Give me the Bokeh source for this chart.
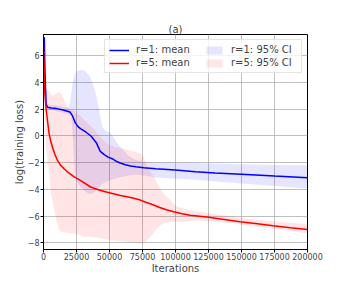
from bokeh.plotting import figure
from bokeh.models import FixedTicker, CustomJSTickFormatter, Legend, LegendItem, Title
from bokeh.embed import file_html
from bokeh.resources import INLINE

# ---- data ----
blue_mean_x = [0, 600, 1200, 2000, 3000, 6000, 10000, 15000, 20000, 22000, 24000, 26000, 28000,
               32000, 36000, 40000, 43000, 46000, 49000, 52000, 55000, 58000, 62000, 66000, 70000,
               76000, 85000, 100000, 115000, 130000, 150000, 175000, 200000]
blue_mean_y = [7.0, 7.4, 4.5, 2.4, 2.15, 2.1, 2.05, 1.95, 1.8, 1.5, 1.0, 0.72, 0.55,
               0.3, 0.0, -0.5, -1.15, -1.4, -1.58, -1.7, -1.88, -2.02, -2.15, -2.25, -2.3,
               -2.37, -2.45, -2.55, -2.68, -2.77, -2.87, -3.0, -3.12]

red_mean_x = [0, 500, 1000, 2000, 3000, 4200, 5500, 7000, 8500, 10600, 13000, 15600, 18300,
              23000, 28200, 35700, 42000, 48300, 58300, 66000, 73400, 78000, 83000, 88000, 93000,
              98600, 105000, 111000, 123800, 137000, 148900, 162000, 174000, 187000, 200000]
red_mean_y = [6.8, 5.0, 3.2, 2.0, 1.16, 0.2, -0.4, -0.9, -1.35, -1.83, -2.2, -2.45, -2.7,
              -3.05, -3.35, -3.82, -4.05, -4.22, -4.45, -4.6, -4.8, -4.98, -5.15, -5.35, -5.52,
              -5.68, -5.82, -5.93, -6.06, -6.25, -6.43, -6.58, -6.73, -6.87, -7.0]

blue_ci_x = [0, 500, 1000, 1500, 2500, 4000, 8000, 12000, 16000, 19300, 20500, 21500, 22500,
             23500, 25000, 28000, 31000, 34000, 36000, 38000, 40000, 41500, 43000, 44500, 47000,
             50800, 55800, 60000, 64000, 70000, 76000, 85000, 100000, 115000, 130000, 150000,
             175000, 200000]
blue_ci_upper = [7.3, 7.5, 6.0, 3.5, 2.5, 2.35, 2.3, 2.25, 2.15, 2.2, 2.8, 3.6, 4.2,
                 4.6, 4.85, 4.95, 4.9, 4.6, 4.3, 3.7, 3.0, 2.3, 1.5, 0.7, 0.4,
                 0.2, -0.5, -1.0, -1.45, -1.8, -1.95, -1.98, -1.98, -2.03, -2.08, -2.12,
                 -2.17, -2.2]
blue_ci_lower = [6.7, 7.0, 3.8, 2.4, 2.0, 1.95, 1.9, 1.8, 1.7, 1.6, 1.55, 1.0, -0.5,
                 -2.5, -3.4, -3.8, -4.1, -4.3, -4.35, -4.25, -4.1, -3.9, -3.75, -3.6, -3.45,
                 -3.3, -3.15, -3.05, -2.95, -2.9, -2.95, -3.1, -3.2, -3.27, -3.4, -3.55,
                 -3.75, -3.94]

red_ci_x = [0, 500, 1000, 1700, 2500, 4000, 5500, 7500, 9300, 11800, 14000, 16000, 18100,
            20000, 23000, 27000, 30000, 35000, 40000, 45000, 50000, 55800, 60000, 66000, 70000,
            73400, 76000, 78500, 81000, 83500, 86000, 88500, 91000, 96000, 101000, 110000,
            118700, 130000, 150000, 175000, 200000]
red_ci_upper = [7.0, 6.0, 3.5, 3.5, 3.5, 3.4, 3.1, 3.0, 3.15, 3.3, 3.1, 2.6, 2.1,
                2.0, 1.9, 1.6, 1.3, 0.8, 0.3, -0.3, -0.7, -0.85, -0.95, -1.1, -1.2,
                -1.3, -1.6, -2.3, -2.7, -3.0, -3.55, -4.0, -4.3, -4.8, -5.3, -5.55,
                -5.7, -5.85, -6.15, -6.4, -6.6]
red_ci_lower = [6.6, 4.0, 1.0, -0.5, -1.2, -2.5, -4.2, -5.2, -6.1, -7.05, -7.2, -7.2, -7.25,
                -7.3, -7.3, -7.4, -7.55, -7.55, -7.6, -7.7, -7.8, -7.85, -7.9, -7.95, -8.0,
                -8.05, -8.05, -7.8, -7.55, -7.25, -6.9, -6.7, -6.55, -6.45, -6.43, -6.38,
                -6.35, -6.4, -6.65, -6.95, -7.3]

x_ticks = [0, 25000, 50000, 75000, 100000, 125000, 150000, 175000, 200000]
y_ticks = [-8, -6, -4, -2, 0, 2, 4, 6]
title_text = "(a)"

FONT = "DejaVu Sans"

p = figure(width=342, height=285, x_range=(0, 200000), y_range=(-8.5, 7.6),
           output_backend="svg", toolbar_location=None,
           min_border_left=43, min_border_right=35, min_border_top=34, min_border_bottom=36)

p.title = Title(text=title_text, align="center", text_font=FONT, text_font_size="10px",
                text_font_style="normal", standoff=0)

ci1 = p.varea(x=blue_ci_x, y1=blue_ci_lower, y2=blue_ci_upper, fill_color="blue", fill_alpha=0.1)
ci5 = p.varea(x=red_ci_x, y1=red_ci_lower, y2=red_ci_upper, fill_color="red", fill_alpha=0.1)
m1 = p.line(blue_mean_x, blue_mean_y, line_color="blue", line_width=1.5)
m5 = p.line(red_mean_x, red_mean_y, line_color="red", line_width=1.5)

for ax in (p.xaxis[0], p.yaxis[0]):
    ax.major_label_text_font = FONT
    ax.major_label_text_font_size = "8px"
    ax.axis_label_text_font = FONT
    ax.axis_label_text_font_size = "10px"
    ax.axis_label_text_font_style = "normal"
    ax.major_tick_out = 3
    ax.major_tick_in = 0
    ax.minor_tick_out = 0
    ax.minor_tick_in = 0
    ax.axis_line_color = "black"
    ax.major_tick_line_color = "black"

p.xaxis[0].major_label_standoff = 0
p.xaxis[0].axis_label_standoff = 0
p.yaxis[0].major_label_standoff = 1
p.yaxis[0].axis_label_standoff = 0

p.xaxis[0].ticker = FixedTicker(ticks=x_ticks)
p.yaxis[0].ticker = FixedTicker(ticks=y_ticks)
fmt = CustomJSTickFormatter(code="return tick < 0 ? '\u2212' + Math.abs(tick) : tick.toString();")
p.xaxis[0].formatter = fmt
p.yaxis[0].formatter = fmt
p.xaxis[0].axis_label = "Iterations"
p.yaxis[0].axis_label = "log(training loss)"

p.xgrid.ticker = FixedTicker(ticks=x_ticks)
p.ygrid.ticker = FixedTicker(ticks=y_ticks)
p.grid.grid_line_color = "#b0b0b0"
p.grid.grid_line_width = 0.8

p.outline_line_color = "black"
p.outline_line_width = 1
p.background_fill_color = "white"

legend = Legend(items=[
    LegendItem(label="r=1: mean", renderers=[m1]),
    LegendItem(label="r=5: mean", renderers=[m5]),
    LegendItem(label="r=1: 95% CI", renderers=[ci1]),
    LegendItem(label="r=5: 95% CI", renderers=[ci5]),
], location="top_right", ncols=2)
legend.label_text_font = FONT
legend.label_text_font_size = "10px"
legend.glyph_width = 20
legend.glyph_height = 10
legend.label_standoff = 7
legend.label_width = 66
legend.spacing = 2
legend.padding = 4
legend.margin = 5
legend.border_line_color = "#cccccc"
legend.border_line_width = 1
legend.background_fill_alpha = 0.8
p.add_layout(legend)

open("out.html", "w").write(file_html(p, INLINE))
